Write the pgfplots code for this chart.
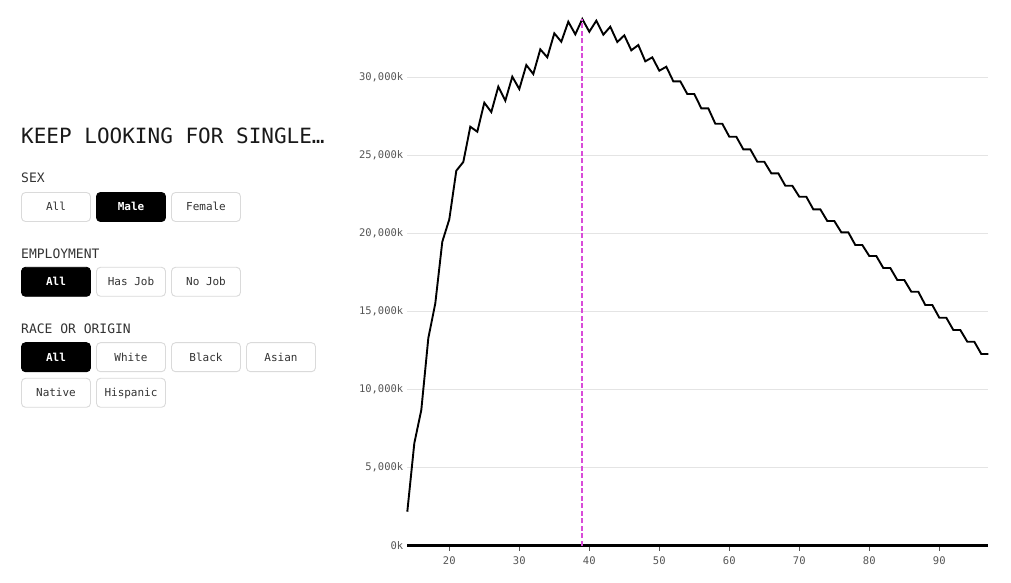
\documentclass[border=0pt]{standalone}
\usepackage{fontspec}
\setmainfont{DejaVu Sans Mono}
\setmonofont{DejaVu Sans Mono}
\usepackage{pgfplots}
\pgfplotsset{compat=1.18}
\definecolor{gridc}{HTML}{E4E4E4}
\definecolor{tickc}{HTML}{555555}
\definecolor{magc}{HTML}{D94CD9}
\definecolor{btnb}{HTML}{DADADA}
\definecolor{txt}{HTML}{333333}

\pgfplotstableread{
age value
14 2178
15 6559
16 8692
17 13284
18 15525
19 19471
20 20906
21 24019
22 24576
23 26837
24 26517
25 28374
26 27778
27 29399
28 28502
29 30039
30 29252
31 30789
32 30212
33 31794
34 31282
35 32819
36 32281
37 33562
38 32755
39 33735
40 32922
41 33626
42 32730
43 33242
44 32262
45 32691
46 31730
47 32070
48 31026
49 31282
50 30424
51 30680
52 29745
53 29745
54 28931
55 28931
56 28015
57 28015
58 27029
59 27029
60 26196
61 26196
62 25389
63 25389
64 24595
65 24595
66 23852
67 23852
68 23058
69 23058
70 22353
71 22353
72 21546
73 21546
74 20797
75 20797
76 20073
77 20073
78 19260
79 19260
80 18555
81 18555
82 17786
83 17786
84 17018
85 17018
86 16269
87 16269
88 15417
89 15417
90 14603
91 14603
92 13816
93 13816
94 13066
95 13066
96 12278
97 12278
}\datatable

\newcommand{\btnoff}[3]{%
  \draw[btnb, line width=0.9pt, rounded corners=4pt, fill=white] (#1,#2) rectangle ++(69,-29);
  \node[anchor=base, font=\fontsize{11}{13}\selectfont, text=txt, inner sep=0] at (#1+34.5,#2-18.5) {#3};}
\newcommand{\btnon}[3]{%
  \draw[black, line width=0.9pt, rounded corners=4pt, fill=black] (#1,#2) rectangle ++(69,-29);
  \node[anchor=base, font=\fontsize{11}{13}\selectfont\bfseries, text=white, inner sep=0] at (#1+34.5,#2-18.5) {#3};}

\begin{document}
\begin{tikzpicture}[x=1pt,y=1pt]
\useasboundingbox (0,0) rectangle (1011,583);

% left panel
\node[anchor=west, inner sep=0, font=\fontsize{21}{25}\selectfont, text=black!90] at (21,447) {KEEP LOOKING FOR SINGLE…};
\node[anchor=west, inner sep=0, font=\fontsize{13}{15}\selectfont, text=txt] at (21,405) {SEX};
\btnoff{21.5}{390.5}{All}
\btnon{96.5}{390.5}{Male}
\btnoff{171.5}{390.5}{Female}

\node[anchor=west, inner sep=0, font=\fontsize{13}{15}\selectfont, text=txt] at (21,329.7) {EMPLOYMENT};
\btnon{21.5}{315.7}{All}
\btnoff{96.5}{315.7}{Has Job}
\btnoff{171.5}{315.7}{No Job}

\node[anchor=west, inner sep=0, font=\fontsize{13}{15}\selectfont, text=txt] at (21,254.7) {RACE OR ORIGIN};
\btnon{21.5}{240.3}{All}
\btnoff{96.5}{240.3}{White}
\btnoff{171.5}{240.3}{Black}
\btnoff{246.5}{240.3}{Asian}
\btnoff{21.5}{204.7}{Native}
\btnoff{96.5}{204.7}{Hispanic}

\begin{axis}[
  at={(407.3pt,37.3pt)}, anchor=south west,
  scale only axis, width=581pt, height=530.8pt,
  xmin=14, xmax=97, ymin=0, ymax=34000,
  clip=false,
  axis x line=bottom, axis y line=left,
  x axis line style={-, line width=3.3pt, black},
  y axis line style={draw=none},
  xtick={20,30,...,90},
  ytick={0,5000,...,30000},
  scaled y ticks=false,
  yticklabel={\pgfmathprintnumber{\tick}k},
  /pgf/number format/.cd, fixed, 1000 sep={,}, assume math mode=true,
  /pgfplots/.cd,
  tick align=outside,
  major tick length=5pt,
  xtick style={tickc, line width=0.8pt},
  ytick style={draw=none},
  tick label style={font=\fontsize{10.5}{12}\selectfont, text=tickc},
  yticklabel style={xshift=4.5pt},
  xticklabel style={yshift=-2pt},
  ymajorgrids,
  grid style={gridc, line width=1pt},
]
\addplot[black, line width=1.9pt, mark=none] table[x=age, y=value] {\datatable};
\addplot[magc, line width=2.1pt, dash pattern=on 5pt off 2.5pt, mark=none] coordinates {(39,0) (39,33735)};
\end{axis}
\end{tikzpicture}
\end{document}
